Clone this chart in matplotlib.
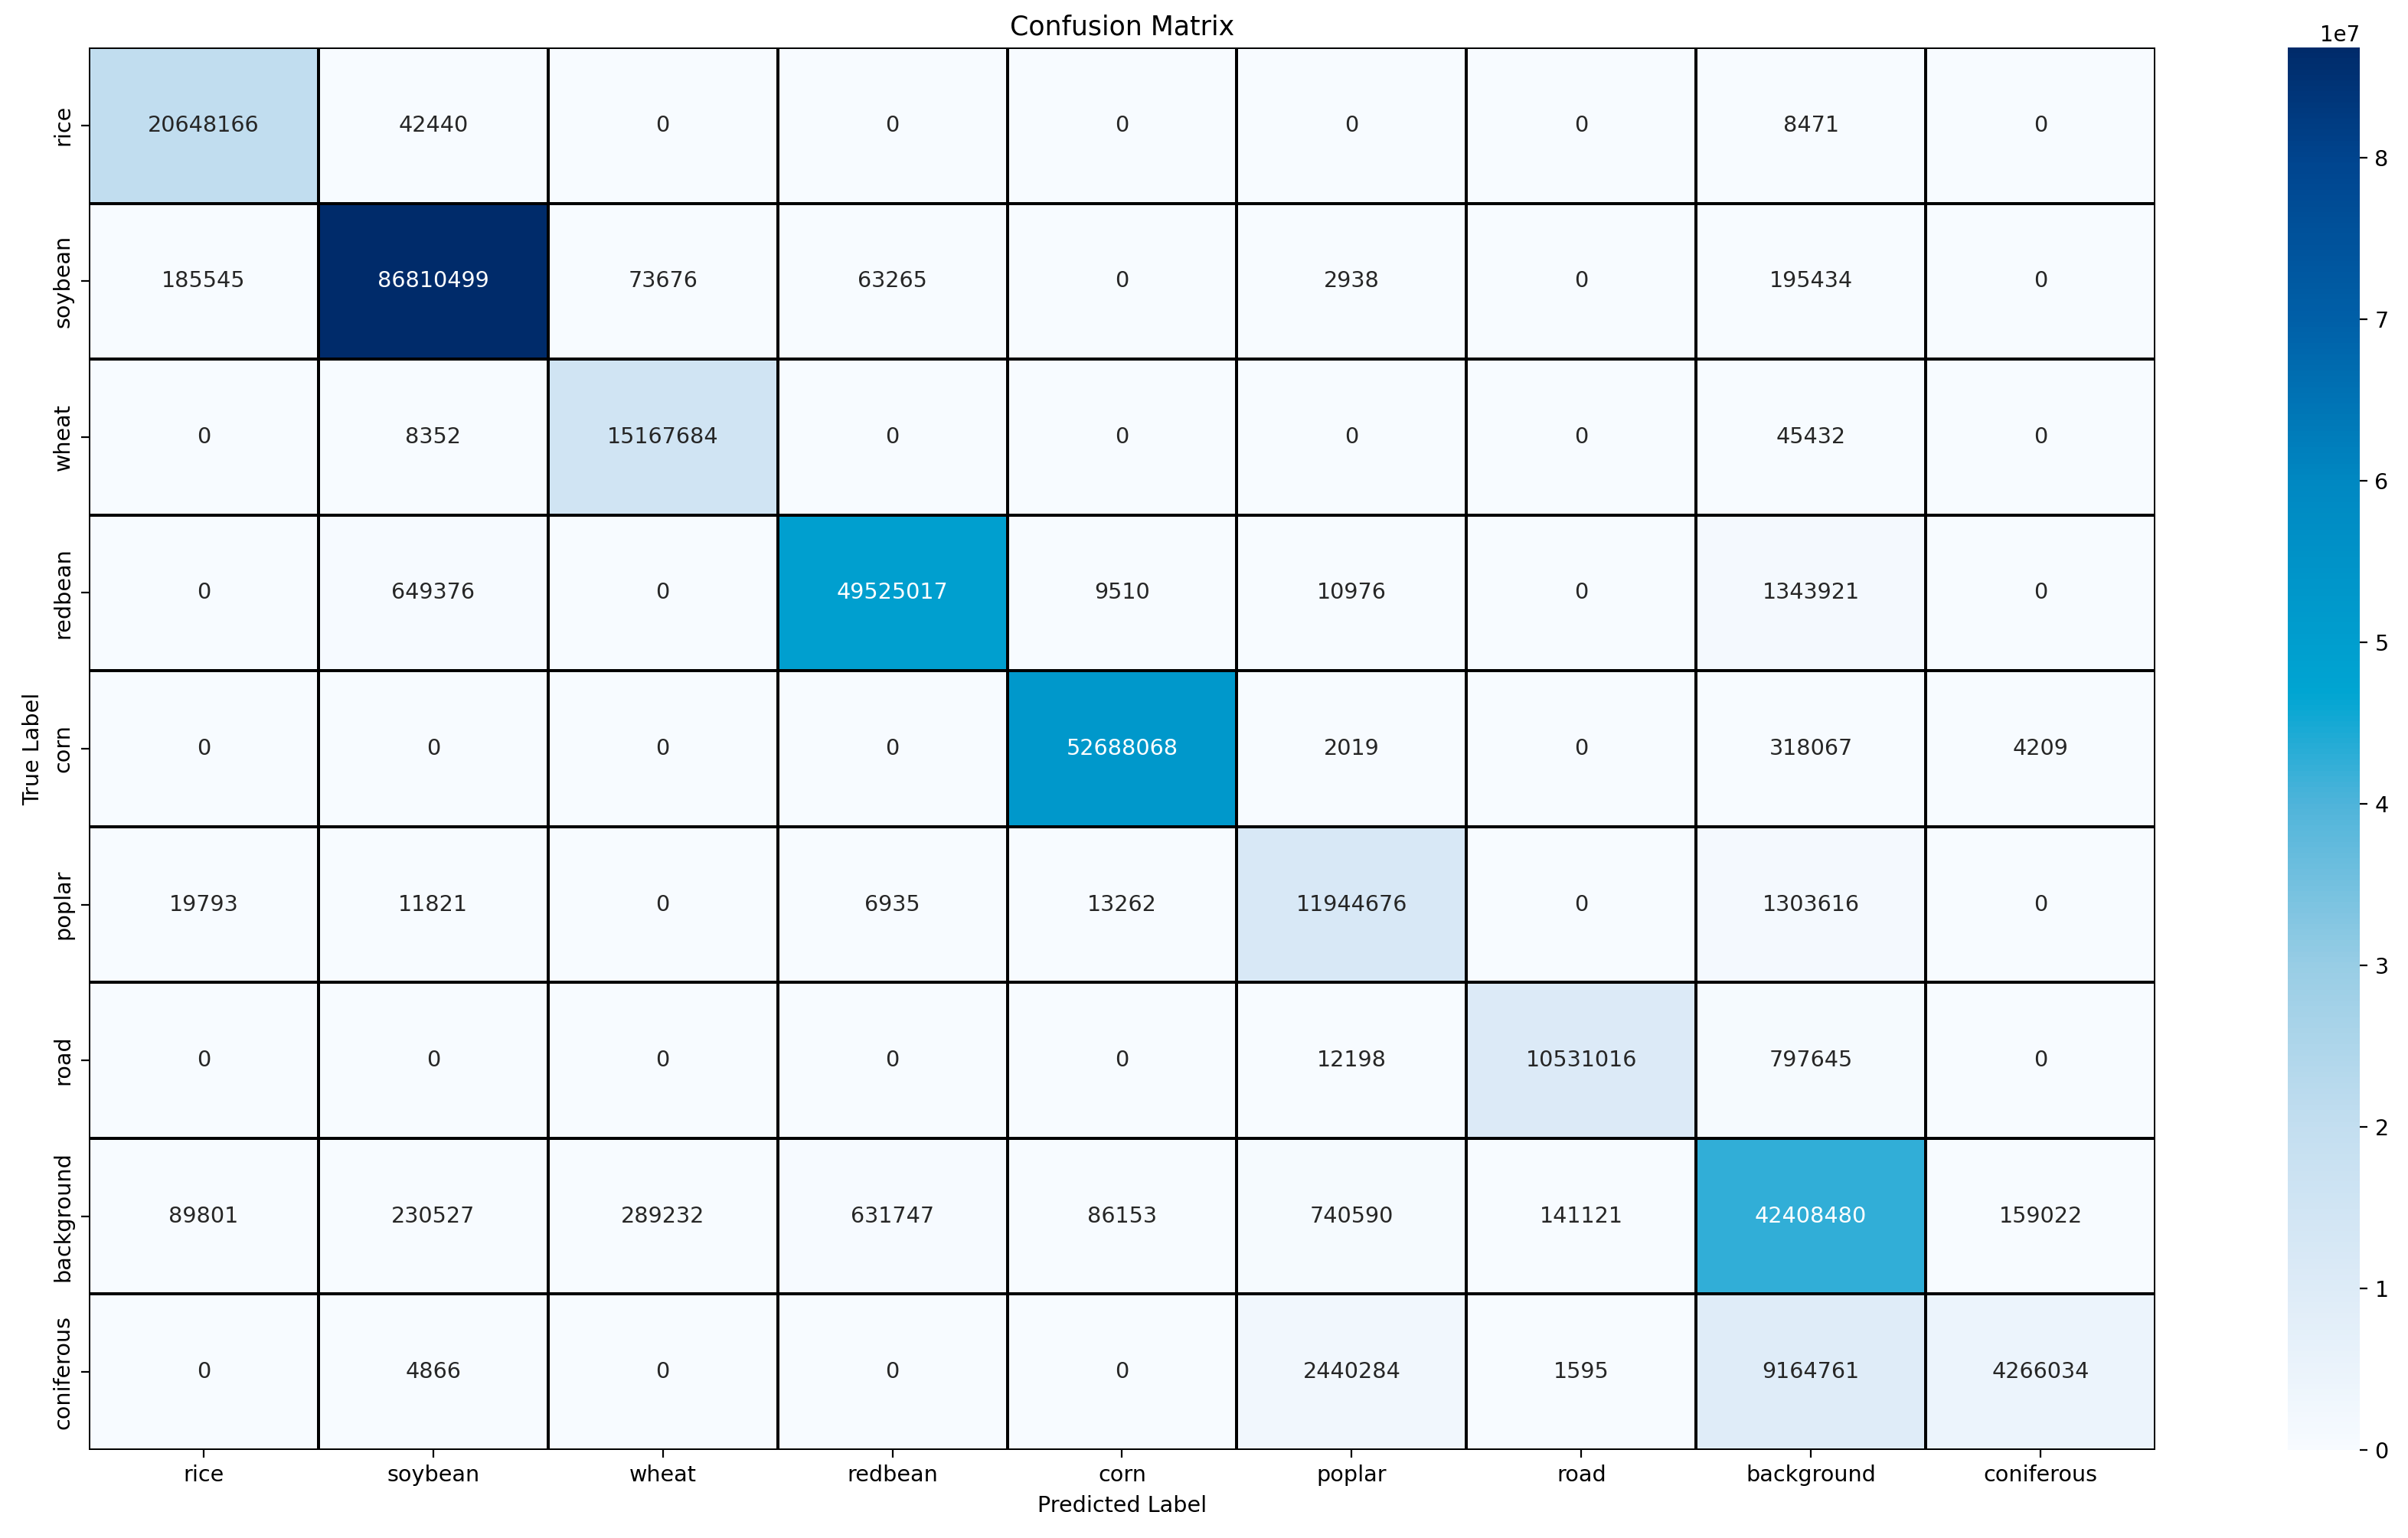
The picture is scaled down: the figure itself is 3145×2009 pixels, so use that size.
import numpy as np
import pandas as pd
import matplotlib
matplotlib.use("Agg")
import matplotlib.pyplot as plt
import seaborn as sns
from matplotlib.colors import LinearSegmentedColormap

classes = ["rice", "soybean", "wheat", "redbean", "corn",
           "poplar", "road", "background", "coniferous"]

# rows = true label, columns = predicted label
row_rice = [20648166, 42440, 0, 0, 0, 0, 0, 8471, 0]
row_soybean = [185545, 86810499, 73676, 63265, 0, 2938, 0, 195434, 0]
row_wheat = [0, 8352, 15167684, 0, 0, 0, 0, 45432, 0]
row_redbean = [0, 649376, 0, 49525017, 9510, 10976, 0, 1343921, 0]
row_corn = [0, 0, 0, 0, 52688068, 2019, 0, 318067, 4209]
row_poplar = [19793, 11821, 0, 6935, 13262, 11944676, 0, 1303616, 0]
row_road = [0, 0, 0, 0, 0, 12198, 10531016, 797645, 0]
row_background = [89801, 230527, 289232, 631747, 86153, 740590, 141121, 42408480, 159022]
row_coniferous = [0, 4866, 0, 0, 0, 2440284, 1595, 9164761, 4266034]

cm = pd.DataFrame(
    [row_rice, row_soybean, row_wheat, row_redbean, row_corn,
     row_poplar, row_road, row_background, row_coniferous],
    index=classes, columns=classes)

# colour ramp
cmap = LinearSegmentedColormap.from_list("cm_blues", [
    (0.00, "#f7fbff"),
    (0.115, "#ddebf7"),
    (0.23, "#c3def0"),
    (0.345, "#98cde5"),
    (0.46, "#4fb4da"),
    (0.54, "#00a5d2"),
    (0.69, "#0088c2"),
    (0.805, "#0060a8"),
    (0.92, "#00458f"),
    (1.00, "#002b6a"),
])

W, H, DPI = 3145, 2009, 200
fig = plt.figure(figsize=(W / DPI, H / DPI), dpi=DPI)
ax = fig.add_axes([116 / W, 1 - 1894 / H, (2815 - 116) / W, (1894 - 62) / H])
cax = fig.add_axes([2988 / W, 1 - 1894 / H, 94 / W, (1894 - 62) / H])

sns.heatmap(cm, annot=True, fmt="d", cmap=cmap, linewidths=0.8,
            linecolor="black", ax=ax, cbar_ax=cax,
            annot_kws={"fontsize": 10.3})

ax.set_title("Confusion Matrix", fontsize=12.5)
ax.set_xlabel("Predicted Label", fontsize=10.3)
ax.set_ylabel("True Label", fontsize=10.3)
ax.tick_params(labelsize=10.3)
plt.setp(ax.get_xticklabels(), rotation=0)
plt.setp(ax.get_yticklabels(), rotation=90, va="center")
cax.tick_params(labelsize=10.3)

fig.savefig("out.png", dpi=DPI)
